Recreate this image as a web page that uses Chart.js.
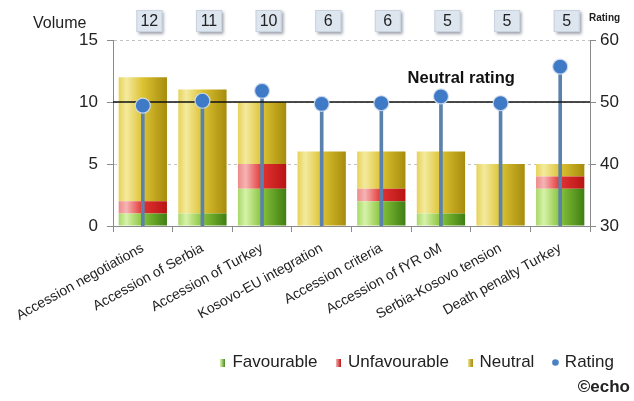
<!DOCTYPE html>
<html>
<head>
<meta charset="utf-8">
<script src="https://cdn.jsdelivr.net/npm/chart.js@4"></script>
<style>
  html, body { margin: 0; padding: 0; background: #fff; }
  #wrap { width: 634px; height: 401px; position: relative; }
</style>
</head>
<body>
<div id="wrap"><canvas id="c"></canvas></div>
<script>
// ---- data ----
const LABELS = ['Accession negotiations', 'Accession of Serbia', 'Accession of Turkey', 'Kosovo-EU integration',
                'Accession criteria', 'Accession of fYR oM', 'Serbia-Kosovo tension', 'Death penalty Turkey'];
const FAVOURABLE   = [1, 1, 3, 0, 2, 1, 0, 3];
const UNFAVOURABLE = [1, 0, 2, 0, 1, 0, 0, 1];
const NEUTRAL      = [10, 10, 5, 6, 3, 5, 5, 1];
const RATING       = [49.4, 50.2, 51.8, 49.7, 49.8, 50.9, 49.8, 55.7];
const VOLUME       = [12, 11, 10, 6, 6, 5, 5, 5];
const VOLUME_TICKS = [0, 5, 10, 15];
const RATING_TICKS = [30, 40, 50, 60];
const NEUTRAL_VOLUME = 10;   // neutral rating line (=50 on rating axis)

const FONT = "'Liberation Sans', Arial, sans-serif";
const BAR_PCT = 0.81;

const GREEN  = ['#a9d86a', '#d6f2a8', '#86c23a', '#3f7e12'];
const RED    = ['#ec8a8a', '#f6b4b4', '#e23232', '#b81414'];
const YELLOW = ['#e6d25a', '#f4ea9e', '#dcc232', '#a68c0c'];

function cylinder(cols) {
  return function (c) {
    const chart = c.chart, xs = chart.scales && chart.scales.x;
    if (!chart.chartArea || !xs || c.dataIndex === undefined) return cols[2];
    const half = (xs.width / LABELS.length) * BAR_PCT / 2;
    const cx = xs.getPixelForValue(c.dataIndex);
    const g = chart.ctx.createLinearGradient(cx - half, 0, cx + half, 0);
    g.addColorStop(0, cols[0]);
    g.addColorStop(0.16, cols[1]);
    g.addColorStop(0.5, cols[2]);
    g.addColorStop(1, cols[3]);
    return g;
  };
}

function boxIcon(cols) {
  const cv = document.createElement('canvas');
  cv.width = 5; cv.height = 8;
  const x = cv.getContext('2d');
  const g = x.createLinearGradient(0, 0, 5, 0);
  g.addColorStop(0, cols[1]); g.addColorStop(1, cols[3]);
  x.fillStyle = g; x.fillRect(0, 0, 5, 8);
  return cv;
}
function dotIcon() {
  const cv = document.createElement('canvas');
  cv.width = 7; cv.height = 7;
  const x = cv.getContext('2d');
  x.fillStyle = '#4a80c4';
  x.beginPath(); x.arc(3.5, 3.5, 3.3, 0, Math.PI * 2); x.fill();
  return cv;
}
const ICONS = [boxIcon(GREEN), boxIcon(RED), boxIcon(YELLOW), null, dotIcon()];
const LEGEND_RANK = {0: 0, 1: 1, 2: 2, 4: 3};

const extras = {
  id: 'extras',
  afterDatasetDraw(chart, args) {
    if (args.index !== 3) return;  // after stems, before dots
    const ctx = chart.ctx, ca = chart.chartArea;
    const y = chart.scales.y.getPixelForValue(NEUTRAL_VOLUME);
    ctx.save();
    ctx.strokeStyle = '#111';
    ctx.lineWidth = 1.5;
    ctx.beginPath(); ctx.moveTo(ca.left, y); ctx.lineTo(ca.right, y); ctx.stroke();
    ctx.restore();
  },
  afterDraw(chart) {
    const ctx = chart.ctx, ca = chart.chartArea, xs = chart.scales.x;
    const yN = chart.scales.y.getPixelForValue(NEUTRAL_VOLUME);
    ctx.save();
    // Neutral rating label
    ctx.fillStyle = '#111';
    ctx.font = "bold 16.5px " + FONT;
    ctx.textAlign = 'center'; ctx.textBaseline = 'middle';
    ctx.fillText('Neutral rating', ca.left + (ca.right - ca.left) * 0.73, yN - 24);
    // Axis titles
    ctx.fillStyle = '#222';
    ctx.font = "16px " + FONT;
    ctx.textAlign = 'left'; ctx.textBaseline = 'alphabetic';
    ctx.fillText('Volume', 33, 28);
    ctx.font = "bold 10px " + FONT;
    ctx.fillText('Rating', ca.right - 1, 21);
    // volume boxes
    for (let i = 0; i < VOLUME.length; i++) {
      const cx = xs.getPixelForValue(i) + 6.5;
      const w = 26, h = 22, top = 10;
      ctx.save();
      ctx.shadowColor = 'rgba(70,80,100,0.55)';
      ctx.shadowOffsetX = 2; ctx.shadowOffsetY = 2; ctx.shadowBlur = 3;
      ctx.fillStyle = '#dde5ef';
      ctx.fillRect(cx - w / 2, top, w, h);
      ctx.restore();
      ctx.strokeStyle = '#c9d3df'; ctx.lineWidth = 1;
      ctx.strokeRect(cx - w / 2 + 0.5, top + 0.5, w - 1, h - 1);
      ctx.fillStyle = '#222';
      ctx.font = "16px " + FONT;
      ctx.textAlign = 'center'; ctx.textBaseline = 'middle';
      ctx.fillText(String(VOLUME[i]), cx, top + h / 2 + 1);
    }
    // copyright
    ctx.fillStyle = '#222';
    ctx.font = "bold 17px " + FONT;
    ctx.textAlign = 'right'; ctx.textBaseline = 'alphabetic';
    ctx.fillText('\u00A9echo', 630, 392);
    ctx.restore();
  }
};

new Chart(document.getElementById('c'), {
  type: 'bar',
  data: {
    labels: LABELS,
    datasets: [
      { label: 'Favourable', data: FAVOURABLE, stack: 'vol', yAxisID: 'y', order: 2,
        backgroundColor: cylinder(GREEN), barPercentage: BAR_PCT, categoryPercentage: 1 },
      { label: 'Unfavourable', data: UNFAVOURABLE, stack: 'vol', yAxisID: 'y', order: 3,
        backgroundColor: cylinder(RED), barPercentage: BAR_PCT, categoryPercentage: 1 },
      { label: 'Neutral', data: NEUTRAL, stack: 'vol', yAxisID: 'y', order: 4,
        backgroundColor: cylinder(YELLOW), barPercentage: BAR_PCT, categoryPercentage: 1 },
      { label: 'stem', data: RATING.map(r => [RATING_TICKS[0], r]), yAxisID: 'y1', order: 1,
        grouped: false, barThickness: 3, backgroundColor: '#5a82ac' },
      { type: 'line', label: 'Rating', data: RATING, yAxisID: 'y1', order: 0, showLine: false,
        pointRadius: 7.5, pointHoverRadius: 7.5, pointBackgroundColor: '#3f7ac6',
        pointBorderColor: 'rgba(210,222,240,0.9)', pointBorderWidth: 1.2 }
    ]
  },
  options: {
    responsive: true,
    maintainAspectRatio: false,
    animation: false,
    devicePixelRatio: 1,
    layout: { padding: { top: 40, bottom: 20, left: 0, right: 0 } },
    scales: {
      x: {
        stacked: true,
        grid: { offset: true, drawOnChartArea: false, drawTicks: true, tickLength: 6, color: '#8a8a8a' },
        border: { color: '#8a8a8a' },
        ticks: { autoSkip: false, minRotation: 29, maxRotation: 29, padding: 8,
                 color: '#222', font: { family: FONT, size: 14 } },
        afterFit(s) { s.height = 108; }
      },
      y: {
        position: 'left', stacked: true,
        min: VOLUME_TICKS[0], max: VOLUME_TICKS[VOLUME_TICKS.length - 1],
        afterBuildTicks(s) { s.ticks = VOLUME_TICKS.map(v => ({ value: v })); },
        grid: { color: '#c2c2c2', tickColor: '#8a8a8a', tickLength: 6, tickBorderDash: [] },
        border: { color: '#8a8a8a', dash: [3, 3] },
        ticks: { padding: 9, color: '#222', font: { family: FONT, size: 17 } },
        afterFit(s) { s.width = 113; }
      },
      y1: {
        position: 'right',
        min: RATING_TICKS[0], max: RATING_TICKS[RATING_TICKS.length - 1],
        afterBuildTicks(s) { s.ticks = RATING_TICKS.map(v => ({ value: v })); },
        grid: { drawOnChartArea: false, tickLength: 6, color: '#8a8a8a' },
        border: { color: '#8a8a8a' },
        ticks: { padding: 4, color: '#222', font: { family: FONT, size: 17 } },
        afterFit(s) { s.width = 44; }
      }
    },
    plugins: {
      tooltip: { enabled: false },
      legend: {
        position: 'bottom', align: 'end',
        labels: {
          usePointStyle: true, boxWidth: 2, boxHeight: 8, padding: 20,
          color: '#222', font: { family: FONT, size: 17 },
          generateLabels(chart) {
            const items = Chart.defaults.plugins.legend.labels.generateLabels(chart)
              .filter(it => it.datasetIndex !== 3);
            items.forEach(it => { it.pointStyle = ICONS[it.datasetIndex]; it.lineWidth = 0; it.strokeStyle = 'transparent'; });
            items.sort((a, b) => LEGEND_RANK[a.datasetIndex] - LEGEND_RANK[b.datasetIndex]);
            return items;
          }
        }
      }
    }
  },
  plugins: [extras]
});
</script>
</body>
</html>
